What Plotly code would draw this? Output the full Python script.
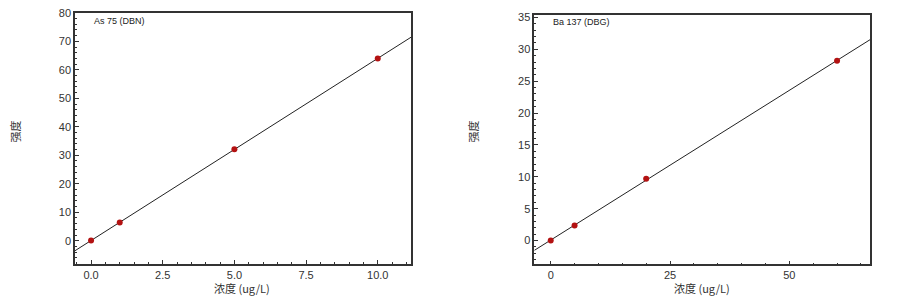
import numpy as np
import plotly.graph_objects as go

# Data
as_conc = [0.0, 1.0, 5.0, 10.0]
as_int = [0.1, 6.4, 32.1, 64.0]
ba_conc = [0.0, 5.0, 20.0, 60.0]
ba_int = [0.0, 2.35, 9.7, 28.2]

as_xrange = [-0.56, 11.16]
as_yrange = [-8.1, 80]
ba_xrange = [-3.44, 66.9]
ba_yrange = [-3.75, 35.37]

fig = go.Figure()

MARK = "#b31212"
AX = "#333333"
FONT = "Liberation Sans, Arial, sans-serif"
CJK = "Noto Sans CJK SC"


def add_panel(xs, ys, xr, yr, xa, ya):
    m, b = np.polyfit(xs, ys, 1)
    lx = np.array(xr)
    fig.add_trace(go.Scatter(x=lx, y=m * lx + b, mode="lines",
                             line=dict(color="#222222", width=1),
                             xaxis=xa, yaxis=ya, showlegend=False, hoverinfo="skip"))
    fig.add_trace(go.Scatter(x=xs, y=ys, mode="markers",
                             marker=dict(color=MARK, size=6),
                             xaxis=xa, yaxis=ya, showlegend=False))


add_panel(as_conc, as_int, as_xrange, as_yrange, "x", "y")
add_panel(ba_conc, ba_int, ba_xrange, ba_yrange, "x2", "y2")

common = dict(showgrid=False, zeroline=False, showline=True, linecolor=AX, linewidth=1.5,
              mirror=True, ticks="inside", ticklen=4, tickcolor=AX, tickwidth=1,
              tickfont=dict(family=FONT, size=11, color="#333333"))

fig.update_layout(
    width=900, height=303, margin=dict(l=0, r=0, t=0, b=0),
    paper_bgcolor="white", plot_bgcolor="white",
    xaxis=dict(domain=[75 / 900, 411 / 900], range=as_xrange, anchor="y",
               tickvals=[0, 2.5, 5, 7.5, 10], ticktext=["0.0", "2.5", "5.0", "7.5", "10.0"],
               minor=dict(dtick=0.5, tick0=0, ticks="inside", ticklen=2, tickcolor=AX),
               **common),
    yaxis=dict(domain=[1 - 263 / 303, 1 - 7 / 303], range=as_yrange, anchor="x",
               dtick=10, tick0=0,
               minor=dict(dtick=2, tick0=0, ticks="inside", ticklen=2, tickcolor=AX),
               **common),
    xaxis2=dict(domain=[534.3 / 900, 870 / 900], range=ba_xrange, anchor="y2",
                dtick=25, tick0=0,
                minor=dict(dtick=5, tick0=0, ticks="inside", ticklen=2, tickcolor=AX),
                **common),
    yaxis2=dict(domain=[1 - 263.7 / 303, 1 - 9.3 / 303], range=ba_yrange, anchor="x2",
                dtick=5, tick0=0,
                minor=dict(dtick=1, tick0=0, ticks="inside", ticklen=2, tickcolor=AX),
                **common),
)

ann = [
    dict(text="As 75 (DBN)", x=92 / 900, y=1 - 15.5 / 303, xanchor="left", yanchor="middle",
         font=dict(family=FONT, size=9, color="#222")),
    dict(text="Ba 137 (DBG)", x=551 / 900, y=1 - 16.5 / 303, xanchor="left", yanchor="middle",
         font=dict(family=FONT, size=9, color="#222")),
    dict(text="强度", x=15 / 900, y=1 - 128 / 303, textangle=-90, xanchor="center", yanchor="middle",
         font=dict(family=CJK, size=11, color="#333")),
    dict(text="强度", x=473 / 900, y=1 - 128 / 303, textangle=-90, xanchor="center", yanchor="middle",
         font=dict(family=CJK, size=11, color="#333")),
    dict(text="浓度 (ug/L)", x=242 / 900, y=1 - 288 / 303, xanchor="center", yanchor="middle",
         font=dict(family=CJK, size=11, color="#333")),
    dict(text="浓度 (ug/L)", x=702 / 900, y=1 - 288 / 303, xanchor="center", yanchor="middle",
         font=dict(family=CJK, size=11, color="#333")),
]
for a in ann:
    a.update(xref="paper", yref="paper", showarrow=False)
fig.update_layout(annotations=ann)

fig.write_html("out.html")
